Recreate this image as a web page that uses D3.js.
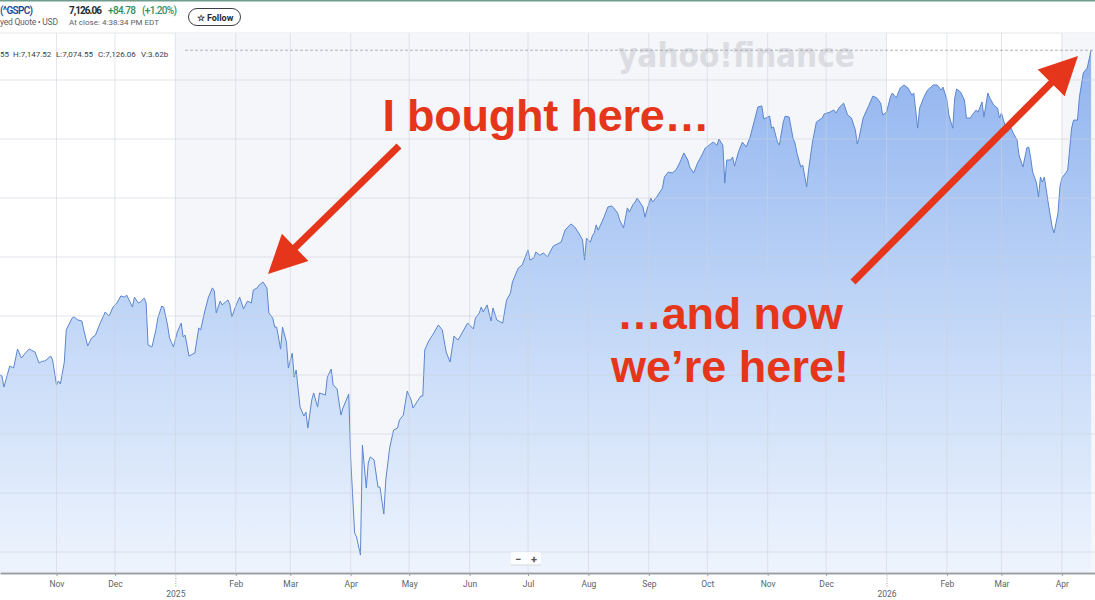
<!DOCTYPE html>
<html>
<head>
<meta charset="utf-8">
<script src="https://cdn.jsdelivr.net/npm/d3@7"></script>
<style>
  html, body { margin: 0; padding: 0; background: #fff; }
  svg { display: block; font-family: Roboto, "Noto Sans", sans-serif; }
</style>
</head>
<body>
<div id="canvas"></div>
<script>
// closes (S&P 500, ^GSPC)
const dates = [
  "2024-10-03","2024-10-04","2024-10-05","2024-10-07","2024-10-08","2024-10-10","2024-10-12","2024-10-14","2024-10-16","2024-10-18",
  "2024-10-21","2024-10-23","2024-10-25","2024-10-26","2024-10-29","2024-10-30","2024-11-01","2024-11-02","2024-11-03","2024-11-05",
  "2024-11-06","2024-11-09","2024-11-10","2024-11-12","2024-11-14","2024-11-15","2024-11-17","2024-11-19","2024-11-21","2024-11-23",
  "2024-11-26","2024-11-28","2024-11-30","2024-12-02","2024-12-04","2024-12-06","2024-12-07","2024-12-09","2024-12-10","2024-12-11",
  "2024-12-13","2024-12-14","2024-12-16","2024-12-17","2024-12-18","2024-12-20","2024-12-22","2024-12-23","2024-12-25","2024-12-26",
  "2024-12-28","2024-12-29","2024-12-31","2025-01-02","2025-01-04","2025-01-05","2025-01-06","2025-01-08","2025-01-10","2025-01-11",
  "2025-01-13","2025-01-14","2025-01-16","2025-01-18","2025-01-20","2025-01-21","2025-01-22","2025-01-24","2025-01-25","2025-01-28",
  "2025-01-29","2025-01-30","2025-02-01","2025-02-03","2025-02-05","2025-02-07","2025-02-09","2025-02-10","2025-02-12","2025-02-13",
  "2025-02-15","2025-02-17","2025-02-18","2025-02-20","2025-02-21","2025-02-22","2025-02-24","2025-02-25","2025-02-27","2025-02-28",
  "2025-03-02","2025-03-03","2025-03-04","2025-03-06","2025-03-08","2025-03-09","2025-03-10","2025-03-12","2025-03-13","2025-03-15",
  "2025-03-16","2025-03-19","2025-03-20","2025-03-22","2025-03-23","2025-03-25","2025-03-27","2025-03-28","2025-03-31","2025-04-01",
  "2025-04-03","2025-04-04","2025-04-06","2025-04-07","2025-04-09","2025-04-10","2025-04-11","2025-04-13","2025-04-15","2025-04-16",
  "2025-04-18","2025-04-19","2025-04-21","2025-04-23","2025-04-25","2025-04-26","2025-04-28","2025-04-30","2025-05-02","2025-05-03",
  "2025-05-05","2025-05-07","2025-05-08","2025-05-09","2025-05-11","2025-05-13","2025-05-16","2025-05-18","2025-05-20","2025-05-22",
  "2025-05-24","2025-05-26","2025-05-27","2025-05-29","2025-05-31","2025-06-03","2025-06-04","2025-06-06","2025-06-07","2025-06-08",
  "2025-06-10","2025-06-12","2025-06-13","2025-06-15","2025-06-18","2025-06-20","2025-06-22","2025-06-23","2025-06-26","2025-06-28",
  "2025-07-01","2025-07-02","2025-07-04","2025-07-05","2025-07-07","2025-07-09","2025-07-11","2025-07-12","2025-07-14","2025-07-16",
  "2025-07-18","2025-07-20","2025-07-23","2025-07-25","2025-07-27","2025-07-29","2025-07-30","2025-07-31","2025-08-02","2025-08-03",
  "2025-08-04","2025-08-05","2025-08-06","2025-08-09","2025-08-11","2025-08-13","2025-08-14","2025-08-16","2025-08-17","2025-08-19",
  "2025-08-21","2025-08-22","2025-08-24","2025-08-25","2025-08-26","2025-08-29","2025-08-30","2025-08-31","2025-09-02","2025-09-03",
  "2025-09-05","2025-09-08","2025-09-09","2025-09-11","2025-09-13","2025-09-15","2025-09-17","2025-09-19","2025-09-21","2025-09-22",
  "2025-09-24","2025-09-26","2025-09-28","2025-09-30","2025-10-02","2025-10-04","2025-10-06","2025-10-07","2025-10-09","2025-10-10",
  "2025-10-11","2025-10-13","2025-10-14","2025-10-15","2025-10-17","2025-10-19","2025-10-21","2025-10-23","2025-10-25","2025-10-27",
  "2025-10-29","2025-10-30","2025-11-01","2025-11-02","2025-11-03","2025-11-04","2025-11-06","2025-11-07","2025-11-09","2025-11-10",
  "2025-11-12","2025-11-14","2025-11-15","2025-11-16","2025-11-18","2025-11-19","2025-11-21","2025-11-22","2025-11-24","2025-11-26",
  "2025-11-29","2025-11-30","2025-12-03","2025-12-05","2025-12-06","2025-12-08","2025-12-10","2025-12-12","2025-12-14","2025-12-16",
  "2025-12-17","2025-12-18","2025-12-20","2025-12-23","2025-12-25","2025-12-27","2025-12-29","2025-12-30","2026-01-01","2026-01-03",
  "2026-01-04","2026-01-06","2026-01-08","2026-01-10","2026-01-12","2026-01-14","2026-01-15","2026-01-17","2026-01-18","2026-01-20",
  "2026-01-22","2026-01-25","2026-01-27","2026-01-29","2026-01-30","2026-02-01","2026-02-02","2026-02-04","2026-02-05","2026-02-06",
  "2026-02-08","2026-02-10","2026-02-11","2026-02-13","2026-02-14","2026-02-16","2026-02-17","2026-02-19","2026-02-20","2026-02-22",
  "2026-02-23","2026-02-25","2026-02-27","2026-02-28","2026-03-01","2026-03-02","2026-03-04","2026-03-06","2026-03-07","2026-03-09",
  "2026-03-10","2026-03-12","2026-03-14","2026-03-15","2026-03-16","2026-03-17","2026-03-19","2026-03-20","2026-03-21","2026-03-22",
  "2026-03-23","2026-03-25","2026-03-27","2026-03-28","2026-03-30","2026-03-31","2026-04-01","2026-04-03","2026-04-04","2026-04-06",
  "2026-04-07","2026-04-09","2026-04-10","2026-04-12","2026-04-14","2026-04-16"
];

const closes = [
  5750,5746,5699,5758,5788,5780,5860,5822,5843,5860,
  5847,5801,5809,5809,5830,5814,5708,5725,5712,5805,
  5941,5991,5996,5983,5979,5941,5873,5907,5919,5962,
  6017,6000,6038,6055,6085,6080,6089,6055,6038,6080,
  6055,6059,6076,6055,5877,5869,5941,5991,6042,6038,
  5962,5907,5869,5932,5970,5911,5919,5830,5839,5843,
  5949,5941,6017,6080,6119,6106,6013,6063,6047,6068,
  6047,5996,6042,6080,6030,6063,6055,6110,6119,6131,
  6144,6119,6013,5991,5953,5953,5860,5953,5890,5780,
  5843,5741,5771,5614,5576,5593,5525,5644,5674,5614,
  5674,5665,5741,5775,5708,5691,5580,5610,5669,5394,
  5081,5064,4987,5453,5271,5377,5403,5390,5275,5275,
  5161,5305,5441,5517,5525,5559,5580,5682,5644,5610,
  5636,5661,5661,5856,5894,5919,5962,5941,5847,5805,
  5915,5898,5911,5941,5970,5945,5991,6013,6038,6017,
  6047,5979,6034,5983,5970,6068,6097,6144,6203,6216,
  6280,6237,6246,6271,6258,6267,6250,6267,6297,6305,
  6313,6364,6390,6377,6352,6322,6237,6330,6313,6339,
  6352,6386,6364,6419,6462,6466,6458,6436,6407,6373,
  6458,6441,6474,6483,6500,6462,6419,6449,6500,6483,
  6504,6542,6589,6610,6606,6619,6652,6691,6661,6631,
  6606,6648,6678,6712,6724,6737,6724,6750,6724,6563,
  6661,6661,6674,6635,6695,6737,6716,6758,6822,6886,
  6890,6835,6843,6847,6796,6801,6737,6724,6822,6847,
  6843,6754,6733,6691,6631,6640,6547,6619,6737,6822,
  6839,6856,6864,6873,6860,6886,6902,6852,6839,6788,
  6729,6758,6839,6894,6932,6924,6902,6852,6864,6928,
  6945,6924,6966,6979,6966,6936,6945,6796,6881,6924,
  6957,6979,6979,6957,6970,6915,6852,6796,6924,6962,
  6949,6915,6839,6839,6852,6873,6864,6907,6843,6945,
  6924,6894,6881,6839,6860,6830,6780,6796,6775,6746,
  6682,6631,6712,6716,6669,6610,6563,6504,6589,6568,
  6589,6479,6377,6352,6436,6547,6585,6606,6619,6796,
  6830,6830,6928,7030,7051,7126.06
];

const tickDates = ["2024-11-01","2024-12-01","2025-01-01","2025-02-01","2025-03-01","2025-04-01","2025-05-01","2025-06-01","2025-07-01",
  "2025-08-01","2025-09-01","2025-10-01","2025-11-01","2025-12-01","2026-01-01","2026-02-01","2026-03-01","2026-04-01"];
const tickLabels = ["Nov","Dec","2025","Feb","Mar","Apr","May","Jun","Jul","Aug","Sep","Oct","Nov","Dec","2026","Feb","Mar","Apr"];
const gridValues = [5000,5250,5500,5750,6000,6250,6500,6750,7000];
const shadedSpans = [["2025-01-01","2026-01-01"],["2026-04-01","2026-04-18"]];
const ohlcLabels = ["55", "H:7,147.52", "L:7,074.55", "C:7,126.06", "V:3.62b"];

const width = 1095;
const height = 600;
const plotTop = 33;
const plotBottom = 572;

const parse = d3.timeParse("%Y-%m-%d");
const data = dates.map((d, i) => ({ date: parse(d), close: closes[i] }));

const x = d3.scaleTime().domain([parse("2024-10-03"), parse("2026-04-18")]).range([0, width]);
const y = d3.scaleLinear().domain([5000, 7000]).range([552, 80]);

const svg = d3.select("#canvas").append("svg").attr("width", width).attr("height", height);

const defs = svg.append("defs");
const grad = defs.append("linearGradient").attr("id", "fillGrad")
  .attr("gradientUnits", "userSpaceOnUse").attr("x1", 0).attr("x2", 0)
  .attr("y1", y(d3.max(closes))).attr("y2", plotBottom);
grad.append("stop").attr("offset", 0).attr("stop-color", "#90b3ef");
grad.append("stop").attr("offset", 0.5).attr("stop-color", "#c0d6f7");
grad.append("stop").attr("offset", 1).attr("stop-color", "#eef4fd");

defs.append("clipPath").attr("id", "plotClip").append("rect")
  .attr("x", 0).attr("y", plotTop).attr("width", width).attr("height", plotBottom - plotTop);

svg.append("rect").attr("width", width).attr("height", height).attr("fill", "#fff");

// header
svg.append("rect").attr("x", 0).attr("y", 0).attr("width", width).attr("height", 1.5).attr("fill", "#6f9d8d");
const header = svg.append("g");
header.append("text").attr("x", 0).attr("y", 14).attr("font-size", 10).attr("font-weight", 600)
  .attr("fill", "#1e4a94").attr("textLength", 33).text("(^GSPC)");
header.append("text").attr("x", 0).attr("y", 25).attr("font-size", 8.5).attr("fill", "#5b636a")
  .attr("textLength", 58).text("yed Quote • USD");
header.append("text").attr("x", 69).attr("y", 14).attr("font-size", 10).attr("font-weight", 700)
  .attr("fill", "#232a31").attr("textLength", 33).text("7,126.06");
header.append("text").attr("x", 108).attr("y", 14).attr("font-size", 10).attr("font-weight", 500)
  .attr("fill", "#2f8f63").attr("textLength", 28).text("+84.78");
header.append("text").attr("x", 142).attr("y", 14).attr("font-size", 10).attr("font-weight", 500)
  .attr("fill", "#2f8f63").attr("textLength", 35).text("(+1.20%)");
header.append("text").attr("x", 69).attr("y", 25).attr("font-size", 8).attr("fill", "#5b636a")
  .attr("textLength", 90).text("At close: 4:38:34 PM EDT");
header.append("rect").attr("x", 188.5).attr("y", 8.5).attr("width", 52).attr("height", 17).attr("rx", 8.5)
  .attr("fill", "#fff").attr("stroke", "#3a3f45").attr("stroke-width", 1);
header.append("text").attr("x", 215).attr("y", 20.5).attr("text-anchor", "middle").attr("font-size", 9)
  .attr("font-weight", 700).attr("fill", "#232a31").text("☆ Follow");
svg.append("line").attr("x1", 0).attr("x2", width).attr("y1", plotTop).attr("y2", plotTop)
  .attr("stroke", "#e4e6ea");

const plot = svg.append("g").attr("clip-path", "url(#plotClip)");

// shaded year bands
plot.selectAll("rect.band").data(shadedSpans).enter().append("rect").attr("class", "band")
  .attr("x", d => x(parse(d[0]))).attr("width", d => x(parse(d[1])) - x(parse(d[0])))
  .attr("y", plotTop).attr("height", plotBottom - plotTop).attr("fill", "#f5f6f9");

// watermark
plot.append("text").attr("x", 618).attr("y", 67).attr("font-family", "'DejaVu Sans', sans-serif")
  .attr("font-size", 33).attr("font-weight", 700).attr("fill", "#dcdde2")
  .attr("textLength", 237).attr("lengthAdjust", "spacingAndGlyphs").text("yahoo!finance");

// area and line
const area = d3.area().x(d => x(d.date)).y0(plotBottom).y1(d => y(d.close));
const line = d3.line().x(d => x(d.date)).y(d => y(d.close));
plot.append("path").datum(data).attr("d", area).attr("fill", "url(#fillGrad)");
plot.append("path").datum(data).attr("d", line).attr("fill", "none")
  .attr("stroke", "#5b86cf").attr("stroke-width", 1).attr("stroke-linejoin", "round");

// grid on top, faint
plot.selectAll("line.hgrid").data(gridValues).enter().append("line").attr("class", "hgrid")
  .attr("x1", 0).attr("x2", width).attr("y1", d => y(d)).attr("y2", d => y(d))
  .attr("stroke", "rgba(205,210,220,0.55)");
plot.selectAll("line.vgrid").data(tickDates).enter().append("line").attr("class", "vgrid")
  .attr("x1", d => x(parse(d))).attr("x2", d => x(parse(d))).attr("y1", plotTop).attr("y2", plotBottom)
  .attr("stroke", "rgba(205,210,220,0.55)");

// last close dashed line
const last = data[data.length - 1];
svg.append("line").attr("x1", 185).attr("x2", width).attr("y1", y(last.close)).attr("y2", y(last.close))
  .attr("stroke", "#9aa0a6").attr("stroke-width", 0.8).attr("stroke-dasharray", "3,2");

// OHLC readout
const ohlcX = [0, 13, 56, 98, 141];
svg.selectAll("text.ohlc").data(ohlcLabels).enter().append("text").attr("class", "ohlc")
  .attr("x", (d, i) => ohlcX[i]).attr("y", 57).attr("font-size", 8).attr("fill", "#3b4148").text(d => d);

// x axis
const tickParsed = tickDates.map(parse);
const axis = svg.append("g").attr("transform", `translate(0,${plotBottom + 1})`)
  .call(d3.axisBottom(x).tickValues(tickParsed).tickFormat((d, i) => tickLabels[i])
    .tickSize(3).tickSizeOuter(0).tickPadding(5));
axis.select(".domain").attr("stroke", "#9ba0a6").attr("stroke-width", 2);
axis.selectAll(".tick line").attr("stroke", "#9ba0a6");
axis.selectAll(".tick text").attr("fill", "#5b636a").attr("font-size", 8.5)
  .attr("font-family", "Roboto, sans-serif");
axis.selectAll(".tick").filter((d, i) => /^\d{4}$/.test(tickLabels[i])).each(function () {
  const t = d3.select(this);
  t.select("line").attr("y2", 14).attr("stroke-dasharray", "1,1.5");
  t.select("text").attr("y", 18);
});

// zoom control
const zc = svg.append("g").attr("transform", "translate(511,552)");
zc.append("rect").attr("width", 30).attr("height", 13).attr("rx", 2).attr("fill", "#fff").attr("opacity", 0.8);
zc.append("line").attr("x1", 0).attr("x2", 30).attr("y1", 13).attr("y2", 13).attr("stroke", "#d6d9de");
zc.append("text").attr("x", 7).attr("y", 10.5).attr("text-anchor", "middle").attr("font-size", 11)
  .attr("font-weight", 700).attr("fill", "#555").text("−");
zc.append("text").attr("x", 23).attr("y", 10.5).attr("text-anchor", "middle").attr("font-size", 11)
  .attr("font-weight", 700).attr("fill", "#555").text("+");

// annotations
const red = "#e5361b";
const notes = svg.append("g").attr("font-family", "'Liberation Sans', Arial, sans-serif")
  .attr("font-weight", 700).attr("font-size", 45).attr("fill", red).attr("text-anchor", "middle");
notes.append("text").attr("x", 546).attr("y", 131).attr("textLength", 327).text("I bought here…");
notes.append("text").attr("x", 730).attr("y", 329).attr("textLength", 226).text("…and now");
notes.append("text").attr("x", 730).attr("y", 382).attr("textLength", 238).text("we’re here!");

function arrow(x0, y0, x1, y1) {
  const dx = x1 - x0, dy = y1 - y0, len = Math.hypot(dx, dy);
  const ux = dx / len, uy = dy / len, nx = -uy, ny = ux;
  const L = 38, W = 19;
  const bx = x1 - ux * L, by = y1 - uy * L;
  svg.append("line").attr("x1", x0).attr("y1", y0).attr("x2", bx + ux * 4).attr("y2", by + uy * 4)
    .attr("stroke", red).attr("stroke-width", 7);
  svg.append("path").attr("fill", red)
    .attr("d", `M${x1},${y1}L${bx + nx * W},${by + ny * W}L${bx - nx * W},${by - ny * W}Z`);
}
arrow(399, 146, 268, 274);
arrow(853, 282, 1078, 56);
</script>
</body>
</html>
